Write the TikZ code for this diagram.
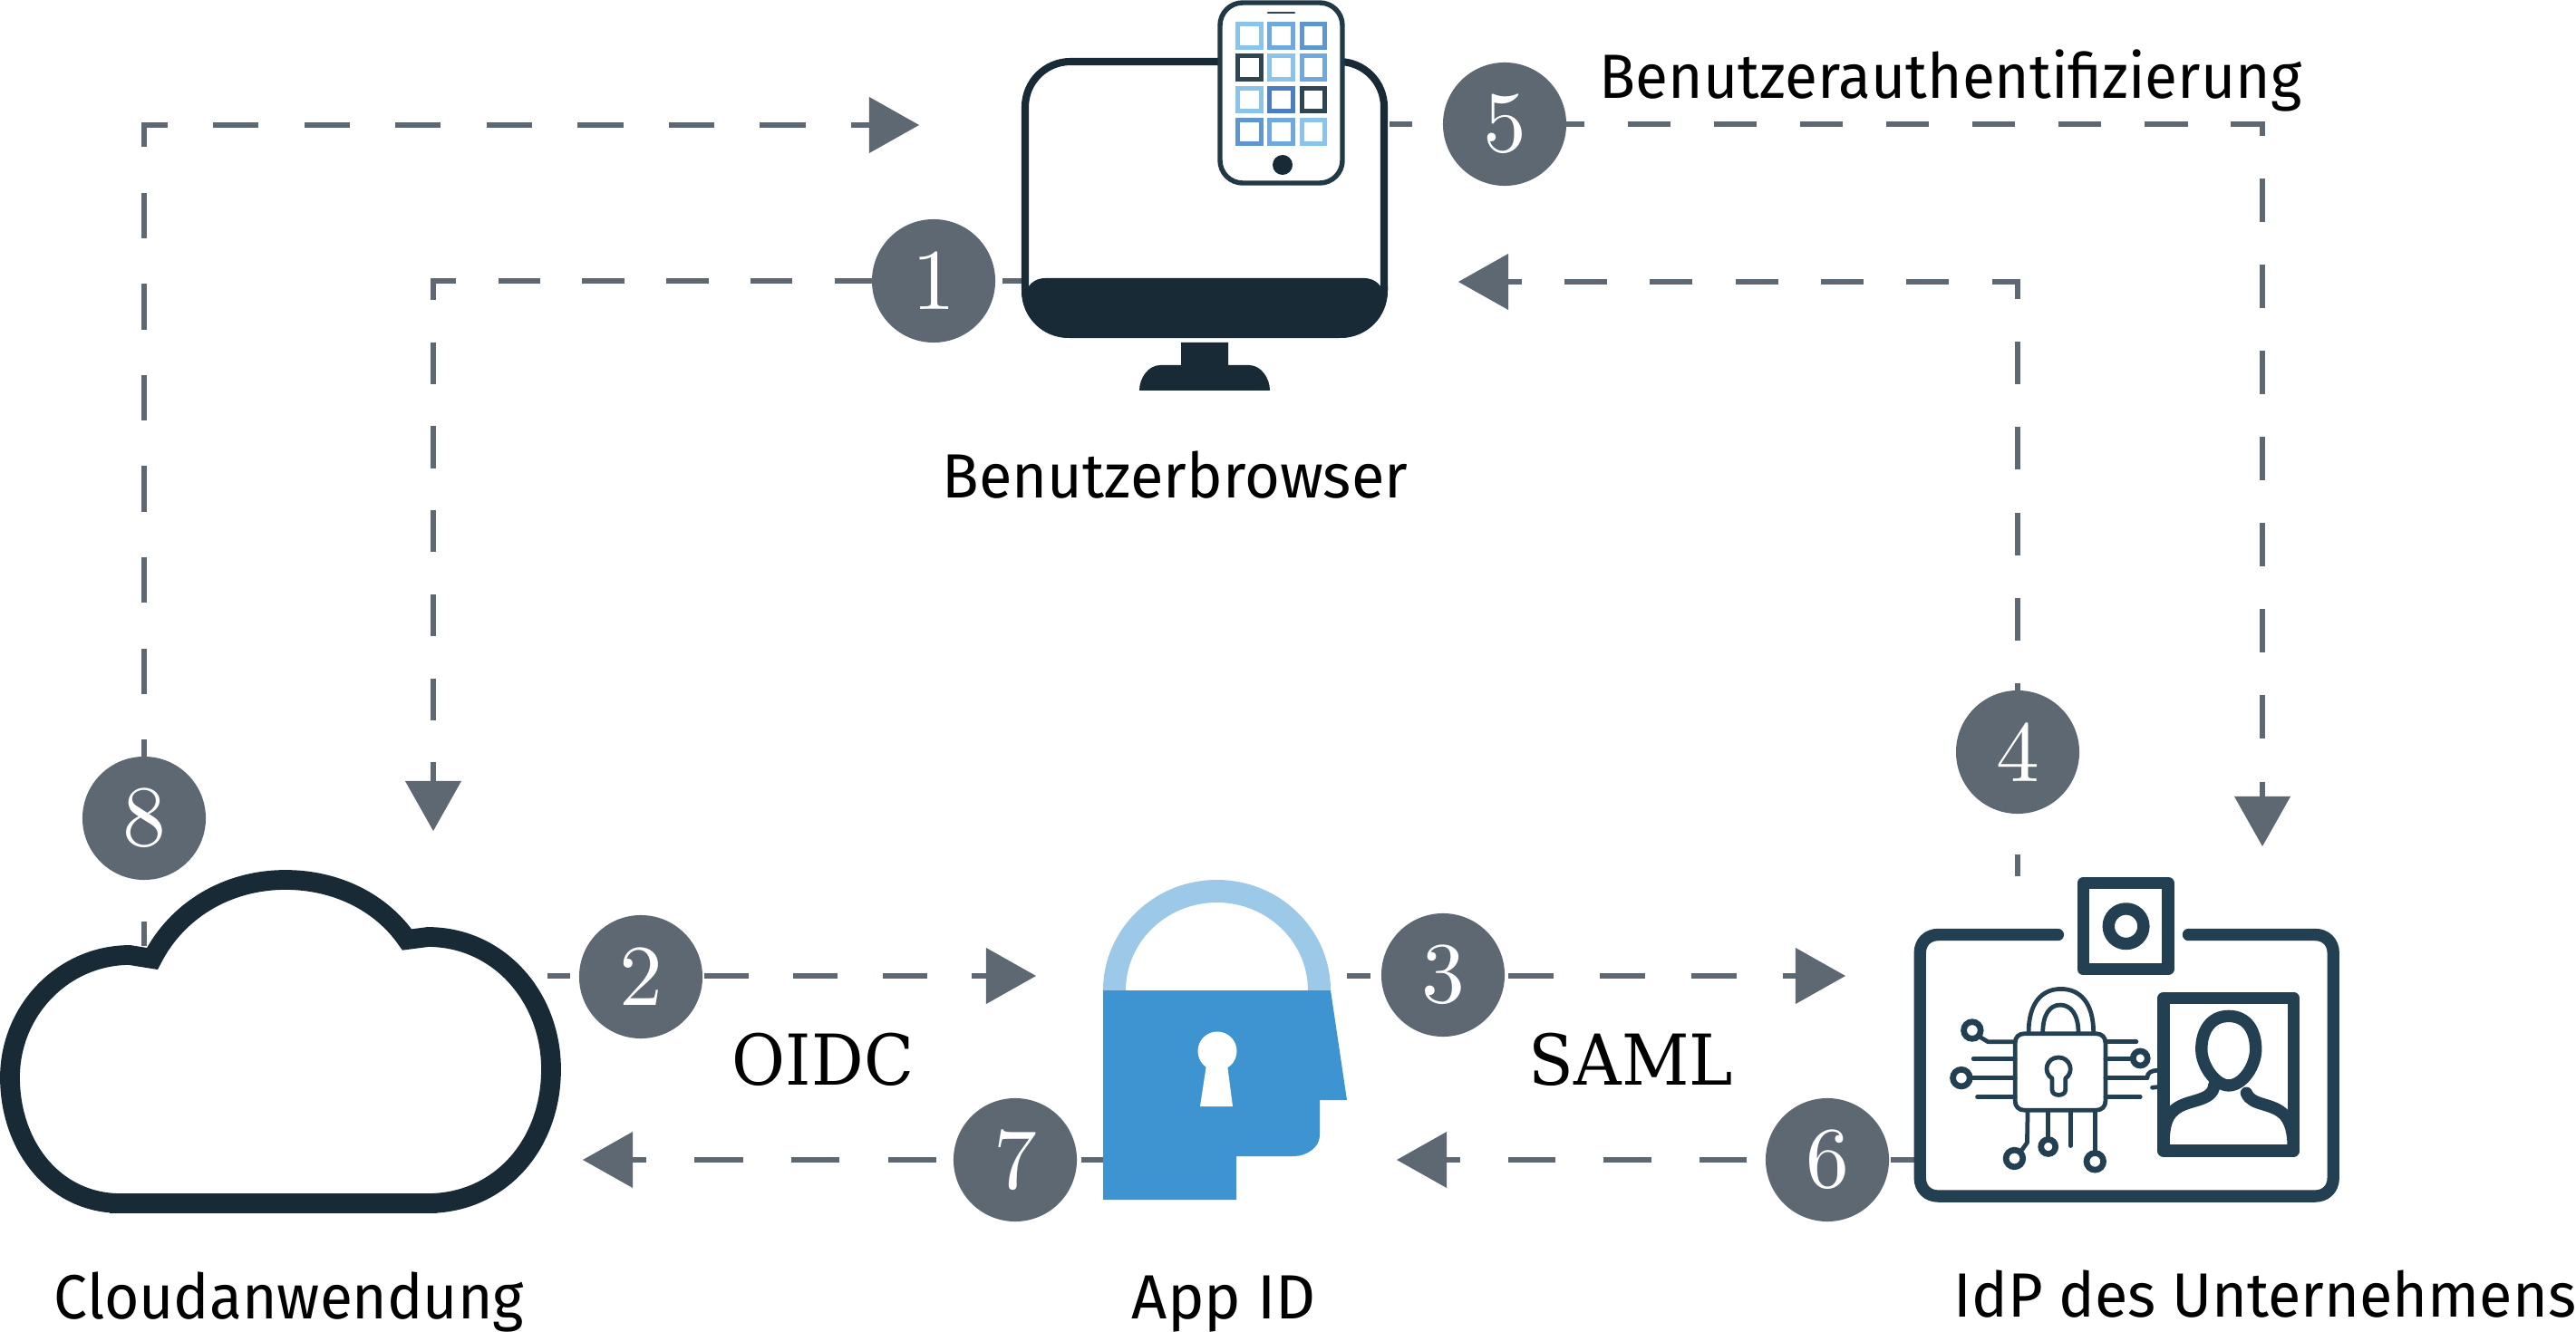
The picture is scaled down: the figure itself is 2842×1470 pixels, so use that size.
\documentclass[tikz,border=0pt]{standalone}
\usepackage{fontspec}
\usepackage{graphicx}
\usetikzlibrary{arrows.meta}
\newfontfamily\lblfont{Fira Sans}
\newfontfamily\protofont{DejaVu Serif}
\newcommand{\fitw}[2]{\resizebox{#1}{\height}{#2}}
\newcommand{\dgt}[1]{\scalebox{2.72}{\fontsize{10}{12}\selectfont #1}}
\definecolor{conncol}{HTML}{5D6872}
\definecolor{mondark}{HTML}{172A36}
\definecolor{phonedark}{HTML}{213946}
\definecolor{carddark}{HTML}{224052}
\definecolor{lockblue}{HTML}{3D94D1}
\definecolor{locklight}{HTML}{9DC9E8}
\definecolor{gLight}{HTML}{8AC4EB}
\definecolor{gMid}{HTML}{6FA8DC}
\definecolor{gDeep}{HTML}{5F96D0}
\definecolor{gStrong}{HTML}{4A7DC1}
\definecolor{gDark}{HTML}{2F4552}
\tikzset{
  conn/.style 2 args={draw=conncol,line width=1.7pt,dash pattern=on #1 off #1,dash phase=#2},
  tip/.style={-{Triangle[length=5.5mm,width=6.2mm,line width=0pt]}},
  num/.style={circle,fill=conncol,text=white,minimum size=1.36cm,inner sep=0pt},
  lbl/.style={anchor=base,inner sep=0pt,text=black,font=\lblfont\fontsize{19.6}{24}\selectfont},
  proto/.style={anchor=base,inner sep=0pt,text=black,font=\protofont\fontsize{22}{26}\selectfont},
  cell/.style={draw=#1,line width=1.5pt,fill=white},
  cardline/.style={draw=carddark,line width=3.8pt,line cap=round,line join=round},
  chip/.style={draw=carddark,line width=1.35pt,line cap=round,line join=round},
  chipdot/.style={draw=carddark,line width=1.9pt,fill=white},
}
\begin{document}
\begin{tikzpicture}[x=0.01cm,y=-0.01cm]
\fill[white] (0,0) rectangle (2842,1470);
\useasboundingbox (0,0) rectangle (2842,1470);

% connector end points
\coordinate (cloudTop) at (159,1044);
\coordinate (browserIn) at (1014,138);
\coordinate (browserL) at (1127,310);
\coordinate (cloudIn) at (478,917);
\coordinate (cloudR) at (604,1077);
\coordinate (lockIn) at (1143,1077);
\coordinate (lockR) at (1486,1077);
\coordinate (idpIn) at (2036,1077);
\coordinate (idpTop) at (2226,967);
\coordinate (browserInR) at (1609,311);
\coordinate (browserR) at (1533,137);
\coordinate (idpInTop) at (2496,934);
\coordinate (idpL) at (2112,1280);
\coordinate (lockInR) at (1541,1280);
\coordinate (lockL) at (1219,1280);
\coordinate (cloudInR) at (643,1280);

% connectors
\draw[conn={0.5025cm}{0.235cm},tip] (cloudTop) |- (browserIn);
\draw[conn={0.4635cm}{0.255cm},tip] (browserL) -| (cloudIn);
\draw[conn={0.4925cm}{0.245cm},tip] (cloudR) -- (lockIn);
\draw[conn={0.505cm}{0.245cm},tip] (lockR) -- (idpIn);
\draw[conn={0.4715cm}{0.232cm},tip] (idpTop) |- (browserInR);
\draw[conn={0.475cm}{0.225cm},tip] (browserR) -| (idpInTop);
\draw[conn={0.5275cm}{0.265cm},tip] (idpL) -- (lockInR);
\draw[conn={0.5325cm}{0.27cm},tip] (lockL) -- (cloudInR);

% monitor
\draw[draw=mondark,line width=2.3pt,rounded corners=0.5cm] (1131,68) rectangle (1527,369);
\fill[mondark] (1127,316) -- (1127,321) .. controls (1127,350) and (1150,373) .. (1179,373)
  -- (1479,373) .. controls (1508,373) and (1531,350) .. (1531,321) -- (1531,316) -- (1523,316)
  .. controls (1520,311) and (1513,307) .. (1505,307) -- (1153,307)
  .. controls (1145,307) and (1138,311) .. (1135,316) -- cycle;
\fill[mondark] (1303,378) -- (1355,378) -- (1355,403) -- (1378,403)
  .. controls (1391,403) and (1401,417) .. (1401,431) -- (1257,431)
  .. controls (1257,417) and (1267,403) .. (1280,403) -- (1303,403) -- cycle;

% phone
\draw[draw=phonedark,fill=white,line width=1.55pt,rounded corners=0.25cm] (1346,3) rectangle (1481,202);
\draw[draw=gDark,line width=0.8pt,line cap=round] (1399,14) -- (1428,14);
\foreach \cx/\cy/\cc in {
  1378.5/39.5/gLight,1413.5/39.5/gMid,1449/39.5/gDeep,
  1378.5/74.5/gDark,1413.5/74.5/gLight,1449/74.5/gMid,
  1378.5/110/gLight,1413.5/110/gStrong,1449/110/gDark,
  1378.5/145.5/gDeep,1413.5/145.5/gMid,1449/145.5/gLight}{
  \draw[cell=\cc] (\cx-12.8,\cy-12.8) rectangle (\cx+12.8,\cy+12.8);
}
\fill[mondark] (1415,182) circle[radius=11];

% cloud
\draw[draw=mondark,line width=6.2pt,line join=miter,fill=white]
  (133,1328) .. controls (60,1328) and (11,1265) .. (11,1189)
  .. controls (11,1115) and (70,1054) .. (143,1054) -- (168,1058)
  .. controls (195,1005) and (250,971) .. (315,971)
  .. controls (370,971) and (420,995) .. (449,1037) -- (472,1034)
  .. controls (550,1034) and (608,1100) .. (608,1180)
  .. controls (608,1265) and (550,1328) .. (472,1328) -- cycle;
\draw[draw=mondark,line width=6.2pt] (121,1328) -- (482,1328);

% App ID lock
\fill[locklight] (1217,1093) arc[start angle=180,end angle=360,x radius=125.5,y radius=122]
  -- (1443,1093) arc[start angle=360,end angle=180,x radius=100.5,y radius=97] -- cycle;
\fill[lockblue] (1217,1093) -- (1468,1093) -- (1486,1214) -- (1456,1214) -- (1456,1253)
  .. controls (1456,1266) and (1442,1276) .. (1427,1276)
  -- (1364,1276) -- (1364,1324) -- (1217,1324) -- cycle;
\fill[white] (1343,1160) circle[radius=21.5];
\fill[white] (1331,1175) -- (1354,1175) -- (1360,1221) -- (1324,1221) -- cycle;

% IdP card
\begin{scope}[shift={(2080,950)},x=0.0033333cm,y=-0.0033333cm]
\draw[cardline] (572,245) -- (175,245) .. controls (140,245) and (115,270) .. (115,305)
  -- (115,1052) .. controls (115,1087) and (140,1112) .. (175,1112)
  -- (1425,1112) .. controls (1460,1112) and (1485,1087) .. (1485,1052)
  -- (1485,305) .. controls (1485,270) and (1460,245) .. (1425,245) -- (1005,245);
\draw[cardline] (657,73) rectangle (937,360);
\draw[cardline] (798,217) circle[radius=58];
% chip lock
\draw[chip] (475,570) .. controls (475,470) and (520,425) .. (582,425) .. controls (645,425) and (690,470) .. (690,570);
\draw[chip] (522,570) .. controls (522,510) and (545,478) .. (580,478) .. controls (615,478) and (640,510) .. (640,570);
\draw[chip] (462,573) -- (698,573) .. controls (718,573) and (730,585) .. (730,605) -- (730,795)
  .. controls (730,815) and (718,827) .. (698,827) -- (462,827)
  .. controls (442,827) and (430,815) .. (430,795) -- (430,605) .. controls (430,585) and (442,573) .. (462,573) -- cycle;
\draw[chip] (553,722) .. controls (520,700) and (535,652) .. (574,652) .. controls (613,652) and (628,700) .. (597,722)
  -- (597,760) .. controls (597,782) and (553,782) .. (553,760) -- cycle;
\draw[chip] (430,600) -- (340,600) -- (310,582);
\draw[chip] (430,657) -- (292,657);
\draw[chip] (430,720) -- (280,720);
\draw[chip] (430,783) -- (305,783);
\draw[chip] (730,600) -- (832,600);
\draw[chip] (730,657) -- (815,657);
\draw[chip] (730,720) -- (868,720);
\draw[chip] (730,783) -- (845,783);
\draw[chip] (472,830) -- (470,935) -- (448,965);
\draw[chip] (540,830) -- (540,922);
\draw[chip] (615,830) -- (615,945);
\draw[chip] (695,830) -- (695,968);
\draw[chipdot] (288,562) circle[radius=28];
\draw[chipdot] (252,720) circle[radius=28];
\draw[chipdot] (845,655) circle[radius=24];
\draw[chipdot] (428,987) circle[radius=28];
\draw[chipdot] (540,948) circle[radius=24];
\draw[chipdot] (695,997) circle[radius=28];
\draw[chip] (868,720) .. controls (868,702) and (882,695) .. (905,695);
\draw[chip] (885,752) -- (905,750);
% photo
\draw[cardline,fill=white] (922,455) rectangle (1353,962);
\draw[cardline] (1138,515) .. controls (1200,515) and (1228,565) .. (1228,625)
  .. controls (1228,680) and (1185,745) .. (1138,745)
  .. controls (1095,745) and (1048,680) .. (1048,625)
  .. controls (1048,565) and (1078,515) .. (1138,515) -- cycle;
\draw[cardline] (1090,745) .. controls (1085,800) and (1000,790) .. (960,825)
  .. controls (925,850) and (922,900) .. (922,960);
\draw[cardline] (1197,770) .. controls (1215,815) and (1285,800) .. (1325,845)
  .. controls (1350,875) and (1353,920) .. (1353,960);
\end{scope}

% step badges
\node[num] (n1) at (1030,310) {\dgt{1}};
\node[num] (n2) at (707,1078) {\dgt{2}};
\node[num] (n3) at (1592,1076) {\dgt{3}};
\node[num] (n4) at (2226,830) {\dgt{4}};
\node[num] (n5) at (1660,137) {\dgt{5}};
\node[num] (n6) at (2016,1280) {\dgt{6}};
\node[num] (n7) at (1120,1280) {\dgt{7}};
\node[num] (n8) at (159,903) {\dgt{8}};

% labels
\node[lbl] (tBrowser) at (1296.5,549) {\fitw{5.13cm}{Benutzerbrowser}};
\node[lbl] (tAuth) at (2152,109) {\fitw{7.74cm}{Benutzerauthentifizierung}};
\node[lbl] (tCloud) at (319,1455) {\fitw{5.18cm}{Cloudanwendung}};
\node[lbl] (tApp) at (1350.5,1455) {\fitw{2.03cm}{App ID}};
\node[lbl] (tIdp) at (2499,1453) {\fitw{6.86cm}{IdP des Unternehmens}};
\node[proto] (tOidc) at (908,1197) {\fitw{2.0cm}{OIDC}};
\node[proto] (tSaml) at (1799.5,1197) {\fitw{2.25cm}{SAML}};
\end{tikzpicture}
\end{document}
